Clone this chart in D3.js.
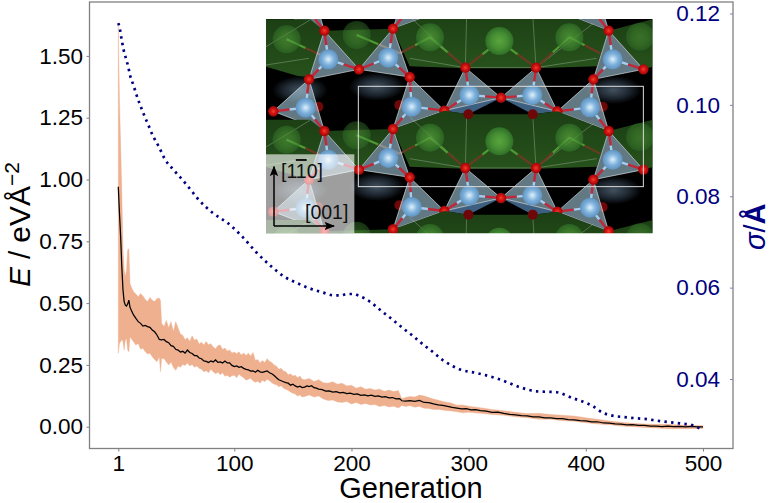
<!DOCTYPE html>
<html><head><meta charset="utf-8">
<script src="https://cdn.jsdelivr.net/npm/d3@7"></script>
<style>html,body{margin:0;padding:0;background:#fff}svg{display:block;font-family:"Liberation Sans",Arial,sans-serif}</style>
</head><body><svg id="c" width="774" height="503"></svg>
<script>
// ---------- data ----------
const meanGen=[1,2,3,4,5,6,7,8,9,10,11,12,14,16,18,20,22,24,26,28,30,32,34,36,38,
40,42,44,46,48,50,52,54,56,58,
60,62,64,66,68,70,72,74,76,78,
80,82,84,86,88,90,92,94,96,98,
100,102,104,106,108,110,112,114,116,118,
120,122,124,126,128,130,132,134,136,138,
140,142,144,146,148,150,152,154,156,158,
160,162,164,166,168,170,172,175,178,181,
184,187,190,193,196,199,202,205,208,211,
214,217,220,223,226,229,232,235,238,241,
243,246,250,254,258,262,266,270,274,278,
282,286,290,294,298,302,306,310,315,320,
325,330,335,340,345,350,355,360,365,370,
375,380,385,390,395,400,405,410,415,420,
425,430,435,440,445,450,455,460,465,470,
475,480,485,490,495,500];
const meanE=[.971,.863,.769,.647,.553,.506,.492,.488,.496,.512,.483,.472,.452,.438,.425,.418,.407,.41,.405,.402,.391,.384,.371,.353,.351,
.353,.344,.34,.328,.325,.313,.31,.302,.305,.298,
.31,.30,.296,.288,.288,.278,.275,.266,.264,.26,
.266,.262,.27,.26,.262,.258,.266,.258,.258,.248,
.243,.246,.24,.243,.236,.232,.23,.225,.226,.22,
.228,.222,.22,.223,.226,.218,.214,.207,.198,.19,
.186,.182,.178,.176,.168,.172,.165,.16,.164,.158,
.16,.165,.162,.166,.158,.156,.152,.15,.144,.145,
.14,.142,.137,.139,.134,.136,.131,.133,.127,.129,
.125,.128,.123,.125,.12,.122,.117,.118,.113,.114,
.105,.103,.105,.102,.106,.098,.097,.092,.088,.086,
.082,.078,.075,.072,.073,.068,.069,.065,.063,.058,
.059,.054,.05,.048,.045,.044,.04,.04,.036,.036,
.033,.033,.029,.028,.025,.024,.02,.02,.015,.014,
.011,.01,.007,.008,.005,.005,.002,.002,0,.002,
0,.001,-.001,.001,-.001,-.001];
const bandGen=[1,2,3,4,5,6,7,8,9,10,11,12,14,16,18,20,22,24,26,28,30,32,34,36,37,38,
40,42,44,46,48,50,52,54,56,58,
60,62,64,66,68,70,72,74,76,78,
80,82,84,86,88,90,92,94,96,98,
100,102,104,106,108,110,112,114,116,118,
120,122,124,126,128,130,132,134,136,138,
140,142,144,146,148,150,152,154,156,158,
160,164,168,172,176,180,184,188,192,196,
200,204,208,212,216,220,224,228,232,236,240,
243,246,250,254,258,262,266,270,275,280,
285,290,295,300,310,320,330,340,350,360,
370,380,390,400,410,420,430,440,450,460,
470,480,490,500];
const upperE=[1.62,1.32,1.14,.95,.72,.634,.607,.634,.715,.72,.58,.566,.546,.537,.526,.539,.529,.515,.506,.523,.512,.506,.519,.52,.512,.418,
.405,.43,.40,.425,.385,.425,.40,.375,.37,.352,
.36,.345,.368,.35,.355,.335,.342,.33,.345,.332,
.336,.322,.315,.328,.33,.312,.318,.306,.31,.298,
.302,.295,.303,.29,.298,.288,.297,.286,.3,.268,
.272,.258,.268,.26,.275,.265,.26,.25,.245,.232,
.236,.225,.222,.21,.214,.205,.208,.198,.205,.192,
.19,.195,.183,.19,.178,.176,.182,.172,.176,.165,
.168,.156,.162,.152,.155,.148,.152,.143,.148,.142,.146,
.113,.118,.122,.12,.128,.124,.118,.112,.106,.1,
.096,.087,.088,.083,.077,.07,.065,.058,.053,.054,
.049,.046,.043,.036,.03,.023,.0175,.0135,.011,.0095,
.0095,.007,.0054,.004];
const lowerE=[.297,.337,.344,.353,.344,.31,.351,.357,.31,.303,.364,.357,.344,.33,.337,.313,.317,.303,.294,.297,.283,.272,.263,.283,.222,.276,
.276,.262,.25,.262,.24,.228,.246,.24,.252,.248,
.258,.246,.252,.24,.246,.236,.232,.222,.226,.218,
.232,.222,.214,.22,.21,.218,.204,.208,.2,.206,
.208,.198,.212,.204,.198,.188,.192,.196,.185,.18,
.184,.176,.188,.182,.192,.186,.178,.172,.17,.162,
.166,.156,.152,.146,.14,.135,.132,.124,.128,.12,
.122,.128,.12,.124,.112,.106,.108,.1,.098,.102,
.092,.098,.09,.094,.088,.09,.082,.086,.08,.083,.076,
.086,.082,.085,.079,.082,.075,.074,.07,.07,.066,
.064,.06,.056,.058,.054,.049,.046,.04,.036,.03,
.03,.024,.022,.016,.011,.008,.003,0,-.003,-.005,
-.008,-.008,-.008,-.007];
const sigmaGen=[1,2.5,3.3,4.2,5.4,6.7,8.4,9.7,11,12.7,14.4,16,22,26.3,30.6,35.7,40.8,47.7,55.4,62.2,69,81.8,94.6,107.4,118.5,130.4,143.2,153.5,163.7,174.8,185,191,196,202,207,212.3,217.4,226,234.5,243,251.6,260,269.5,278,286.6,292.6,307,326.7,343.8,358,375,389,401,407.7,413.7,420.5,435,452,466,480,490.5,497,500];
const sigmaV=[.1179,.1164,.1151,.1138,.1122,.1109,.1094,.1081,.1065,.1052,.1039,.1026,.0984,.0958,.0932,.0908,.0881,.0859,.0837,.0816,.0794,.0763,.0741,.071,.0678,.0649,.0623,.061,.0599,.059,.0583,.0583,.0586,.0586,.0581,.0575,.0566,.0548,.0531,.0513,.0496,.0478,.0459,.0441,.0428,.0421,.0413,.0399,.0382,.0373,.0371,.0358,.0347,.0338,.0327,.0321,.0316,.0312,.0307,.0303,.0299,.0292,.0289];
const genTicks=[1,100,200,300,400,500];
const energyTicks=[0,.25,.5,.75,1,1.25,1.5];
const sigmaTicks=[.04,.06,.08,.10,.12];
// inset illustration: atom sites in the picture's own lattice units, repeated per period
const oxygen=[[193,62],[399,56],[297,178],[147,208],[449,201],[40,304],[616,173],[828,173],[723,263],[553,302],[892,304],[1000,208],[1046,62],[1150,178]];
const oxygenDeep=[[625,12],[818,12],[418,285],[175,290],[1028,290]];
const metal=[[205,148],[385,143],[137,293],[455,290],[628,255],[817,255],[990,292],[1058,148]];
const tetra=[[[193,62],[147,208],[297,178]],[[399,56],[297,178],[449,201]],[[40,304],[147,208],[193,363]],[[449,201],[553,302],[399,357]],[[616,173],[723,263],[553,302]],[[828,173],[723,263],[892,304]],[[892,304],[1000,208],[1046,363]],[[1046,62],[1000,208],[1150,178]]];
const chlorine=[[718,93,42,1],[510,82,42,.7],[928,82,42,.7],[290,75,42,.45],[80,88,42,.55],[1140,80,42,.45]];
const greenPatch=[[[399,56],[553,1],[625,12],[818,12],[892,3],[1046,62],[1010,169],[828,175],[616,175],[449,169]],[[18,28],[150,28],[193,62],[147,208],[18,170]],[[193,62],[399,56],[297,178]],[[1046,62],[1178,28],[1178,170],[1150,178]]];
const faintEdge=[[[620,12],[616,173]],[[818,12],[828,173]],[[616,173],[828,173]],[[449,145],[616,173]],[[828,173],[1010,145]],[[449,20],[616,173]],[[828,173],[1000,40]],[[18,165],[147,145]],[[18,110],[150,30]]];
const clBond=[[718,93,616,173],[718,93,828,173],[510,82,616,173],[928,82,828,173],[510,82,420,130],[928,82,1020,130],[290,75,420,130],[80,88,193,140]];
const copies=[-301,0,301,602];

// ---------- scales ----------
const svg=d3.select("#c");
const L=89.5,R=733,T=2,B=448.5;
const x=d3.scaleLinear().domain([1,500]).range([118.3,703]);
const y=d3.scaleLinear().domain([0,1.5]).range([426.7,55.9]);
const ys=d3.scaleLinear().domain([.04,.12]).range([379,13.5]);
const navy="#000080", spine="#808080";

// ---------- band, mean, sigma ----------
const upperPts=bandGen.map((g,i)=>[x(g),y(upperE[i])]);
const lowerPts=bandGen.map((g,i)=>[x(g),y(lowerE[i])]).reverse();
svg.append("path").attr("d",d3.line()(upperPts.concat(lowerPts))+"Z").attr("fill","#eeb08f").attr("stroke","#eeb08f").attr("stroke-width",.4);
svg.append("path").attr("d",d3.line().x(d=>x(d[0])).y(d=>y(d[1]))(meanGen.map((g,i)=>[g,meanE[i]])))
  .attr("fill","none").attr("stroke","#000").attr("stroke-width",1.25);
svg.append("path").attr("d",d3.line().curve(d3.curveMonotoneX).x(d=>x(d[0])).y(d=>ys(d[1]))(sigmaGen.map((g,i)=>[g,sigmaV[i]])))
  .attr("fill","none").attr("stroke",navy).attr("stroke-width",2.7).attr("stroke-dasharray","2.4 4.3");

// ---------- inset ----------
const ix=d3.scaleLinear().domain([18,1178]).range([266,652.7]);
const iy=d3.scaleLinear().domain([27,670]).range([19,233.3]);
const defs=svg.append("defs");
defs.append("clipPath").attr("id","ic").append("rect").attr("x",ix(18)).attr("y",iy(27)).attr("width",ix(1178)-ix(18)).attr("height",iy(670)-iy(27));
const rg=(id,c0,c1,c2)=>{const g=defs.append("radialGradient").attr("id",id).attr("cx",.5).attr("cy",.5).attr("r",.5);
 g.append("stop").attr("offset","0%").attr("stop-color",c0);g.append("stop").attr("offset","55%").attr("stop-color",c1);g.append("stop").attr("offset","100%").attr("stop-color",c2);};
rg("gCl","#5aa53e","#478f33","#2f6f28");
rg("gM","#dff0fb","#7fb2dc","#5f93c0");
rg("gO","#f04030","#cc0f0f","#9c0808");
rg("gShade","#5f7488","#2c3a48","#000000");
const lg=defs.append("linearGradient").attr("id","gBand").attr("x1",0).attr("x2",0).attr("y1",0).attr("y2",1);
lg.append("stop").attr("offset","0%").attr("stop-color","#1c3f14");lg.append("stop").attr("offset","100%").attr("stop-color","#27521c");
const inset=svg.append("g").attr("clip-path","url(#ic)").style("filter","blur(.45px)");
inset.append("rect").attr("x",ix(18)).attr("y",iy(27)).attr("width",ix(1178)-ix(18)).attr("height",iy(670)-iy(27)).attr("fill","#000");
const pts=(p,dy)=>p.map(d=>ix(d[0])+","+iy(d[1]+dy)).join(" ");
const seg=(g,a,b,dy,c,w)=>g.append("line").attr("x1",ix(a[0])).attr("y1",iy(a[1]+dy)).attr("x2",ix(b[0])).attr("y2",iy(b[1]+dy)).attr("stroke",c).attr("stroke-width",w);
copies.forEach(dy=>{
  const g=inset.append("g");
  greenPatch.forEach(p=>g.append("polygon").attr("points",pts(p,dy)).attr("fill","url(#gBand)"));
  [[350,230],[120,240],[1060,240]].forEach(s=>g.append("ellipse").attr("cx",ix(s[0])).attr("cy",iy(s[1]+dy)).attr("rx",28).attr("ry",14).attr("fill","url(#gShade)").attr("opacity",.7));
  [[[553,302],[625,313],[723,263]],[[723,263],[818,313],[892,304]]].forEach(p=>g.append("polygon").attr("points",pts(p,dy)).attr("fill","#3d5f80"));
  faintEdge.forEach(e=>seg(g,e[0],e[1],dy,"#b9c9b4",.6).attr("opacity",.6));
  clBond.forEach(b=>{const m=[(b[0]+b[2])/2,(b[1]+b[3])/2];
    seg(g,[b[0],b[1]],m,dy,"#4f9a35",2.2);seg(g,m,[b[2],b[3]],dy,"#6a3a22",2.2);});
  chlorine.forEach(c=>g.append("circle").attr("cx",ix(c[0])).attr("cy",iy(c[1]+dy)).attr("r",c[2]/3).attr("fill","url(#gCl)").attr("opacity",c[3]));
  oxygenDeep.forEach(o=>g.append("circle").attr("cx",ix(o[0])).attr("cy",iy(o[1]+dy)).attr("r",5).attr("fill","#6e0808"));
  tetra.forEach(p=>g.append("polygon").attr("points",pts(p,dy)).attr("fill","#a9cfe0").attr("fill-opacity",.58).attr("stroke","#dfe9ee").attr("stroke-width",.8).attr("stroke-opacity",.8));
  metal.forEach((m,i)=>tetra[i].forEach(v=>{const h=[(m[0]+v[0])/2,(m[1]+v[1])/2];
    seg(g,m,h,dy,"#a6cdf0",2.4);seg(g,h,v,dy,"#c2283a",2.4);}));
  metal.forEach(m=>g.append("circle").attr("cx",ix(m[0])).attr("cy",iy(m[1]+dy)).attr("r",10).attr("fill","url(#gM)"));
  oxygen.forEach(o=>g.append("circle").attr("cx",ix(o[0])).attr("cy",iy(o[1]+dy)).attr("r",5.2).attr("fill","url(#gO)"));
});
inset.append("rect").attr("x",ix(295)).attr("y",iy(229)).attr("width",ix(1150)-ix(295)).attr("height",iy(530)-iy(229)).attr("fill","none").attr("stroke","#dcdcdc").attr("stroke-width",1);
inset.append("rect").attr("x",ix(18)).attr("y",iy(433)).attr("width",ix(283)-ix(18)).attr("height",iy(670)-iy(433)).attr("fill","#fff").attr("fill-opacity",.62);
// direction arrows
const arrow=svg.append("g");
defs.append("marker").attr("id","ah").attr("viewBox","0 0 10 10").attr("refX",9).attr("refY",5).attr("markerWidth",7).attr("markerHeight",7).attr("orient","auto")
  .append("path").attr("d","M0,1L10,5L0,9L2,5Z").attr("fill","#000");
arrow.append("line").attr("x1",ix(42)).attr("y1",iy(648)).attr("x2",ix(42)).attr("y2",iy(470)).attr("stroke","#000").attr("stroke-width",1.5).attr("marker-end","url(#ah)");
arrow.append("line").attr("x1",ix(42)).attr("y1",iy(648)).attr("x2",ix(222)).attr("y2",iy(648)).attr("stroke","#000").attr("stroke-width",1.5).attr("marker-end","url(#ah)");
const mil=arrow.append("text").attr("x",281).attr("y",178).attr("font-size",19.5).attr("fill","#111");
mil.append("tspan").text("[1");
mil.append("tspan").style("text-decoration","overline").text("1");
mil.append("tspan").text("0]");
arrow.append("text").attr("x",305).attr("y",219).attr("font-size",19.5).attr("fill","#111").text("[001]");

// ---------- spines and axes ----------
svg.append("rect").attr("x",L).attr("y",T).attr("width",R-L).attr("height",B-T).attr("fill","none").attr("stroke",spine).attr("stroke-width",1.3);
const style=(g,col,tickCol,fs)=>{g.select(".domain").remove();g.selectAll("line").attr("stroke",tickCol).attr("stroke-width",1);
  g.selectAll("text").attr("fill",col).attr("font-size",fs).attr("font-family","'Liberation Sans',Arial,sans-serif");};
svg.append("g").attr("transform",`translate(0,${B})`).call(d3.axisBottom(x).tickValues(genTicks).tickFormat(d3.format("d")).tickSize(3).tickPadding(4)).call(style,"#000",spine,22.5);
svg.append("g").attr("transform",`translate(${L},0)`).call(d3.axisLeft(y).tickValues(energyTicks).tickFormat(d3.format(".2f")).tickSize(3).tickPadding(3.5)).call(style,"#000",spine,22.5);
svg.append("g").attr("transform",`translate(${R},0)`).call(d3.axisLeft(ys).tickValues(sigmaTicks).tickFormat(d3.format(".2f")).tickSize(3).tickPadding(10)).call(style,navy,"#7f7fbf",22.5);

// ---------- axis titles ----------
svg.append("text").attr("x",411).attr("y",498).attr("text-anchor","middle").attr("font-size",29).attr("fill","#000").text("Generation");
const yl=svg.append("text").attr("transform","translate(30,287) rotate(-90)").attr("font-size",30).attr("fill","#000");
yl.append("tspan").attr("font-style","italic").text("E");
yl.append("tspan").attr("dx",8).text("/");
yl.append("tspan").attr("dx",8).text("eVÅ");
yl.append("tspan").attr("font-size",21).attr("dy",-11).text("\u22122");
const rl=svg.append("text").attr("transform","translate(765,250) rotate(-90)").attr("font-size",29).attr("fill",navy);
rl.append("tspan").attr("font-style","italic").text("σ");
rl.append("tspan").text("/");
rl.append("tspan").attr("font-weight","bold").text("Å");
</script></body></html>
